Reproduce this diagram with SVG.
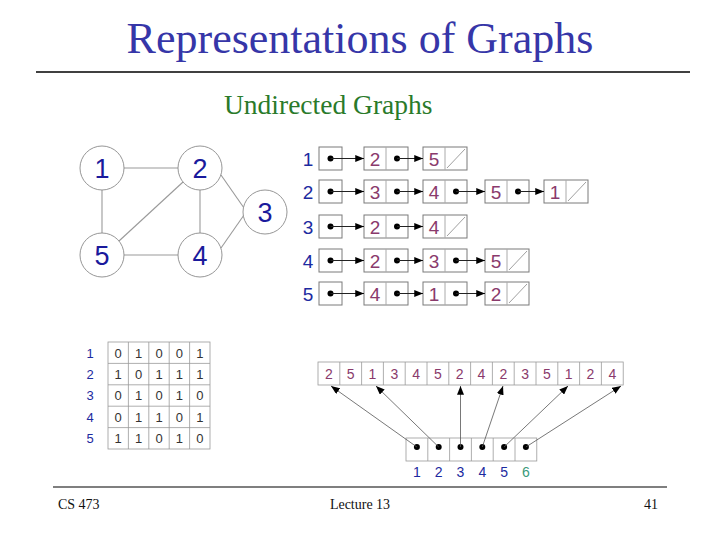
<svg xmlns="http://www.w3.org/2000/svg" width="720" height="540" viewBox="0 0 720 540">
<defs>
<style>
.title{font-family:"Liberation Serif","Times New Roman",serif;fill:#3636a8}
.sub{font-family:"Liberation Serif","Times New Roman",serif;fill:#2a7a2a}
.foot{font-family:"Liberation Serif","Times New Roman",serif;fill:#111;font-size:14px}
.gc{fill:#fff;stroke:#8a8a8a;stroke-width:0.9}
.ge{stroke:#9a9a9a;stroke-width:1.1;fill:none}
.gl{font-family:"Liberation Sans",Arial,sans-serif;font-size:27px;fill:#1a1a9c;text-anchor:middle}
.box{fill:#fff;stroke:#7a7a7a;stroke-width:1}
.div{stroke:#aaa;stroke-width:1}
.nil{stroke:#888;stroke-width:0.8}
.lv{font-family:"Liberation Sans",Arial,sans-serif;font-size:19px;fill:#8a3a6c;text-anchor:middle}
.rl{font-family:"Liberation Sans",Arial,sans-serif;font-size:19px;fill:#1c2aa0;text-anchor:middle}
.dot{fill:#000}
.la{stroke:#222;stroke-width:1;fill:none}
.mt{font-family:"Liberation Sans",Arial,sans-serif;font-size:13px;fill:#333;text-anchor:middle}
.ml{font-family:"Liberation Sans",Arial,sans-serif;font-size:13px;fill:#1c2aa0;text-anchor:middle}
.grid{stroke:#999;stroke-width:0.8;fill:none}
.av{font-family:"Liberation Sans",Arial,sans-serif;font-size:14px;fill:#8a3a6c;text-anchor:middle}
.al{font-family:"Liberation Sans",Arial,sans-serif;font-size:14px;fill:#1c2aa0;text-anchor:middle}
.pa{stroke:#555;stroke-width:0.8;fill:none}
</style>
<marker id="ah" viewBox="0 0 10 8" refX="10" refY="4" markerWidth="10" markerHeight="7" markerUnits="userSpaceOnUse" orient="auto">
<path d="M0,0 L10,4 L0,8 z" fill="#000"/>
</marker>
<marker id="ah2" viewBox="0 0 10 8" refX="10" refY="4" markerWidth="9" markerHeight="7" markerUnits="userSpaceOnUse" orient="auto">
<path d="M0,0 L10,4 L0,8 z" fill="#000"/>
</marker>
</defs>
<rect width="720" height="540" fill="#fff"/>

<!-- Header -->
<text class="title" x="360" y="53" font-size="44" text-anchor="middle">Representations of Graphs</text>
<line x1="36" y1="72" x2="690" y2="72" stroke="#000" stroke-width="1.5"/>
<text class="sub" x="224" y="114" font-size="27.5">Undirected Graphs</text>

<!-- Graph drawing -->
<g id="graph-edges">
<line class="ge" x1="124" y1="168" x2="178" y2="168"/>
<line class="ge" x1="102" y1="190" x2="102" y2="233"/>
<line class="ge" x1="200" y1="190" x2="200" y2="233"/>
<line class="ge" x1="124" y1="255" x2="178" y2="255"/>
<line class="ge" x1="119" y1="241" x2="183" y2="182"/>
<line class="ge" x1="221" y1="175" x2="244" y2="208"/>
<line class="ge" x1="221" y1="248" x2="244" y2="215"/>
</g>
<g id="gnode-1"><circle class="gc" cx="102" cy="168" r="22"/><text class="gl" x="102" y="178">1</text></g>
<g id="gnode-2"><circle class="gc" cx="200" cy="168" r="22"/><text class="gl" x="200" y="178">2</text></g>
<g id="gnode-3"><circle class="gc" cx="265" cy="212" r="22"/><text class="gl" x="265" y="222">3</text></g>
<g id="gnode-4"><circle class="gc" cx="200" cy="255" r="22"/><text class="gl" x="200" y="265">4</text></g>
<g id="gnode-5"><circle class="gc" cx="102" cy="255" r="22"/><text class="gl" x="102" y="265">5</text></g>

<!-- Adjacency lists -->
<g id="list-1">
<text class="rl" x="308" y="165.5">1</text>
<rect class="box" x="319" y="147" width="23" height="23"/><circle class="dot" cx="330.5" cy="158.5" r="3"/>
<rect class="box" x="364" y="147" width="44" height="23"/><line class="div" x1="386" y1="147" x2="386" y2="170"/><text class="lv" x="375" y="165.5">2</text><circle class="dot" cx="397" cy="158.5" r="3"/>
<rect class="box" x="423" y="147" width="44" height="23"/><line class="div" x1="445" y1="147" x2="445" y2="170"/><text class="lv" x="434" y="165.5">5</text><line class="nil" x1="447" y1="168" x2="465" y2="149"/>
</g>
<g id="list-2">
<text class="rl" x="308" y="198.5">2</text>
<rect class="box" x="319" y="180" width="23" height="23"/><circle class="dot" cx="330.5" cy="191.5" r="3"/>
<rect class="box" x="364" y="180" width="44" height="23"/><line class="div" x1="386" y1="180" x2="386" y2="203"/><text class="lv" x="375" y="198.5">3</text><circle class="dot" cx="397" cy="191.5" r="3"/>
<rect class="box" x="423" y="180" width="44" height="23"/><line class="div" x1="445" y1="180" x2="445" y2="203"/><text class="lv" x="434" y="198.5">4</text><circle class="dot" cx="456" cy="191.5" r="3"/>
<rect class="box" x="485" y="180" width="44" height="23"/><line class="div" x1="507" y1="180" x2="507" y2="203"/><text class="lv" x="496" y="198.5">5</text><circle class="dot" cx="518" cy="191.5" r="3"/>
<rect class="box" x="544" y="180" width="44" height="23"/><line class="div" x1="566" y1="180" x2="566" y2="203"/><text class="lv" x="555" y="198.5">1</text><line class="nil" x1="568" y1="201" x2="586" y2="182"/>
</g>
<g id="list-3">
<text class="rl" x="308" y="233.5">3</text>
<rect class="box" x="319" y="215" width="23" height="23"/><circle class="dot" cx="330.5" cy="226.5" r="3"/>
<rect class="box" x="364" y="215" width="44" height="23"/><line class="div" x1="386" y1="215" x2="386" y2="238"/><text class="lv" x="375" y="233.5">2</text><circle class="dot" cx="397" cy="226.5" r="3"/>
<rect class="box" x="423" y="215" width="44" height="23"/><line class="div" x1="445" y1="215" x2="445" y2="238"/><text class="lv" x="434" y="233.5">4</text><line class="nil" x1="447" y1="236" x2="465" y2="217"/>
</g>
<g id="list-4">
<text class="rl" x="308" y="267.5">4</text>
<rect class="box" x="319" y="249" width="23" height="23"/><circle class="dot" cx="330.5" cy="260.5" r="3"/>
<rect class="box" x="364" y="249" width="44" height="23"/><line class="div" x1="386" y1="249" x2="386" y2="272"/><text class="lv" x="375" y="267.5">2</text><circle class="dot" cx="397" cy="260.5" r="3"/>
<rect class="box" x="423" y="249" width="44" height="23"/><line class="div" x1="445" y1="249" x2="445" y2="272"/><text class="lv" x="434" y="267.5">3</text><circle class="dot" cx="456" cy="260.5" r="3"/>
<rect class="box" x="485" y="249" width="44" height="23"/><line class="div" x1="507" y1="249" x2="507" y2="272"/><text class="lv" x="496" y="267.5">5</text><line class="nil" x1="509" y1="270" x2="527" y2="251"/>
</g>
<g id="list-5">
<text class="rl" x="308" y="300.5">5</text>
<rect class="box" x="319" y="282" width="23" height="23"/><circle class="dot" cx="330.5" cy="293.5" r="3"/>
<rect class="box" x="364" y="282" width="44" height="23"/><line class="div" x1="386" y1="282" x2="386" y2="305"/><text class="lv" x="375" y="300.5">4</text><circle class="dot" cx="397" cy="293.5" r="3"/>
<rect class="box" x="423" y="282" width="44" height="23"/><line class="div" x1="445" y1="282" x2="445" y2="305"/><text class="lv" x="434" y="300.5">1</text><circle class="dot" cx="456" cy="293.5" r="3"/>
<rect class="box" x="485" y="282" width="44" height="23"/><line class="div" x1="507" y1="282" x2="507" y2="305"/><text class="lv" x="496" y="300.5">2</text><line class="nil" x1="509" y1="303" x2="527" y2="284"/>
</g>
<g id="list-connectors">
<line class="la" x1="330.5" y1="158.5" x2="364" y2="158.5" marker-end="url(#ah)"/>
<line class="la" x1="397" y1="158.5" x2="423" y2="158.5" marker-end="url(#ah)"/>
<line class="la" x1="330.5" y1="191.5" x2="364" y2="191.5" marker-end="url(#ah)"/>
<line class="la" x1="397" y1="191.5" x2="423" y2="191.5" marker-end="url(#ah)"/>
<line class="la" x1="456" y1="191.5" x2="485" y2="191.5" marker-end="url(#ah)"/>
<line class="la" x1="518" y1="191.5" x2="544" y2="191.5" marker-end="url(#ah)"/>
<line class="la" x1="330.5" y1="226.5" x2="364" y2="226.5" marker-end="url(#ah)" stroke="#bbb"/>
<line class="la" x1="397" y1="226.5" x2="423" y2="226.5" marker-end="url(#ah)" stroke="#888"/>
<line class="la" x1="330.5" y1="260.5" x2="364" y2="260.5" marker-end="url(#ah)"/>
<line class="la" x1="397" y1="260.5" x2="423" y2="260.5" marker-end="url(#ah)"/>
<line class="la" x1="456" y1="260.5" x2="485" y2="260.5" marker-end="url(#ah)"/>
<line class="la" x1="330.5" y1="293.5" x2="364" y2="293.5" marker-end="url(#ah)"/>
<line class="la" x1="397" y1="293.5" x2="423" y2="293.5" marker-end="url(#ah)"/>
<line class="la" x1="456" y1="293.5" x2="485" y2="293.5" marker-end="url(#ah)" stroke="#999"/>
</g>

<!-- Adjacency matrix -->
<g id="matrix">
<rect class="grid" x="108" y="342" width="102" height="107"/>
<line class="grid" x1="128.4" y1="342" x2="128.4" y2="449"/>
<line class="grid" x1="148.8" y1="342" x2="148.8" y2="449"/>
<line class="grid" x1="169.2" y1="342" x2="169.2" y2="449"/>
<line class="grid" x1="189.6" y1="342" x2="189.6" y2="449" stroke="#666"/>
<line class="grid" x1="108" y1="363.4" x2="210" y2="363.4"/>
<line class="grid" x1="108" y1="384.8" x2="210" y2="384.8"/>
<line class="grid" x1="108" y1="406.2" x2="210" y2="406.2" stroke="#666"/>
<line class="grid" x1="108" y1="427.6" x2="210" y2="427.6"/>
<text class="ml" x="90" y="357.5">1</text>
<text class="ml" x="90" y="378.9">2</text>
<text class="ml" x="90" y="400.3">3</text>
<text class="ml" x="90" y="421.7">4</text>
<text class="ml" x="90" y="443.1">5</text>
<text class="mt" y="357.5"><tspan x="118.2">0</tspan><tspan x="138.6">1</tspan><tspan x="159">0</tspan><tspan x="179.4">0</tspan><tspan x="199.8">1</tspan></text>
<text class="mt" y="378.9"><tspan x="118.2">1</tspan><tspan x="138.6">0</tspan><tspan x="159">1</tspan><tspan x="179.4">1</tspan><tspan x="199.8">1</tspan></text>
<text class="mt" y="400.3"><tspan x="118.2">0</tspan><tspan x="138.6">1</tspan><tspan x="159">0</tspan><tspan x="179.4">1</tspan><tspan x="199.8">0</tspan></text>
<text class="mt" y="421.7"><tspan x="118.2">0</tspan><tspan x="138.6">1</tspan><tspan x="159">1</tspan><tspan x="179.4">0</tspan><tspan x="199.8">1</tspan></text>
<text class="mt" y="443.1"><tspan x="118.2">1</tspan><tspan x="138.6">1</tspan><tspan x="159">0</tspan><tspan x="179.4">1</tspan><tspan x="199.8">0</tspan></text>
</g>

<!-- Compact array -->
<g id="edge-array">
<rect class="grid" x="318" y="362" width="305.2" height="23" stroke="#aaa"/>
<g class="grid" stroke="#bbb">
<line x1="339.8" y1="362" x2="339.8" y2="385"/><line x1="361.6" y1="362" x2="361.6" y2="385"/>
<line x1="383.4" y1="362" x2="383.4" y2="385"/><line x1="405.2" y1="362" x2="405.2" y2="385"/>
<line x1="427" y1="362" x2="427" y2="385"/><line x1="448.8" y1="362" x2="448.8" y2="385"/>
<line x1="470.6" y1="362" x2="470.6" y2="385"/><line x1="492.4" y1="362" x2="492.4" y2="385"/>
<line x1="514.2" y1="362" x2="514.2" y2="385"/><line x1="536" y1="362" x2="536" y2="385"/>
<line x1="557.8" y1="362" x2="557.8" y2="385"/><line x1="579.6" y1="362" x2="579.6" y2="385"/>
<line x1="601.4" y1="362" x2="601.4" y2="385"/>
</g>
<text class="av" y="378.5"><tspan x="328.9">2</tspan><tspan x="350.7">5</tspan><tspan x="372.5">1</tspan><tspan x="394.3">3</tspan><tspan x="416.1">4</tspan><tspan x="437.9">5</tspan><tspan x="459.7">2</tspan><tspan x="481.5">4</tspan><tspan x="503.3">2</tspan><tspan x="525.1">3</tspan><tspan x="546.9">5</tspan><tspan x="568.7">1</tspan><tspan x="590.5">2</tspan><tspan x="612.3">4</tspan></text>
</g>
<g id="index-array">
<rect class="grid" x="406" y="438" width="130.8" height="23" stroke="#888"/>
<g class="grid" stroke="#999">
<line x1="427.8" y1="438" x2="427.8" y2="461"/><line x1="449.6" y1="438" x2="449.6" y2="461"/>
<line x1="471.4" y1="438" x2="471.4" y2="461"/><line x1="493.2" y1="438" x2="493.2" y2="461"/>
<line x1="515" y1="438" x2="515" y2="461"/>
</g>
<circle class="dot" cx="416.9" cy="447" r="3"/><circle class="dot" cx="438.7" cy="447" r="3"/>
<circle class="dot" cx="460.5" cy="447" r="3"/><circle class="dot" cx="482.3" cy="447" r="3"/>
<circle class="dot" cx="504.1" cy="447" r="3"/><circle class="dot" cx="525.9" cy="447" r="3"/>
<text class="al" y="477"><tspan x="416.9">1</tspan><tspan x="438.7">2</tspan><tspan x="460.5">3</tspan><tspan x="482.3">4</tspan><tspan x="504.1">5</tspan><tspan x="525.9" fill="#3a9a7a">6</tspan></text>
</g>
<g id="array-connectors">
<line class="pa" x1="416.9" y1="447" x2="331" y2="386" marker-end="url(#ah2)"/>
<line class="pa" x1="438.7" y1="447" x2="376" y2="386" marker-end="url(#ah2)"/>
<line class="pa" x1="460.5" y1="447" x2="460.5" y2="386" marker-end="url(#ah2)"/>
<line class="pa" x1="482.3" y1="447" x2="503" y2="386" marker-end="url(#ah2)"/>
<line class="pa" x1="504.1" y1="447" x2="568" y2="386" marker-end="url(#ah2)"/>
<line class="pa" x1="525.9" y1="447" x2="621" y2="386" marker-end="url(#ah2)"/>
</g>

<!-- Footer -->
<line x1="53" y1="487" x2="667" y2="487" stroke="#000" stroke-width="1.2"/>
<text class="foot" x="58" y="509">CS 473</text>
<text class="foot" x="360" y="509" text-anchor="middle">Lecture 13</text>
<text class="foot" x="658" y="509" text-anchor="end">41</text>
</svg>
